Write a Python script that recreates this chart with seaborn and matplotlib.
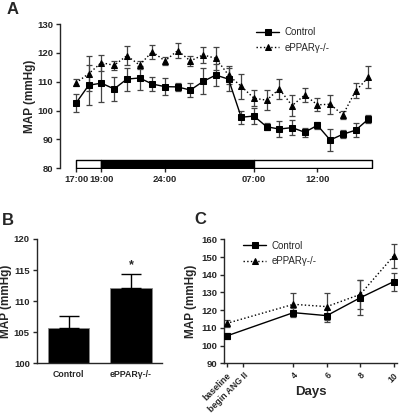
import numpy as np
import pandas as pd
import matplotlib
matplotlib.use("Agg")
import matplotlib.pyplot as plt
import seaborn as sns

# ---------------- Data ----------------
# Panel A: hourly MAP (hour 17 = 17:00 day 1, 40 = 16:00 day 2)
hours = list(range(17, 41))
ctrl_a = [102.6, 108.8, 109.5, 107.5, 110.9, 111.3, 109.2, 108.3, 108.2, 107.1,
          110.1, 112.3, 110.9, 97.7, 98.1, 94.4, 93.6, 94.1, 92.5, 94.9,
          89.8, 91.8, 93.2, 97.0]
ctrl_a_err = [3.2, 7.0, 6.6, 4.2, 4.0, 4.0, 2.3, 2.9, 1.3, 2.3,
              4.5, 3.7, 4.0, 2.3, 2.8, 1.3, 2.7, 2.5, 1.5, 1.3,
              3.7, 1.3, 2.5, 1.3]
ko_a = [109.6, 112.8, 116.6, 115.7, 119.0, 115.8, 120.4, 117.2, 120.8, 117.2,
        119.3, 118.1, 112.3, 108.4, 104.3, 103.6, 107.5, 101.7, 105.4, 102.0,
        102.2, 98.5, 106.8, 111.5]
ko_a_err = [1.2, 6.0, 2.8, 1.6, 3.3, 1.5, 2.4, 1.5, 2.6, 1.6,
            2.9, 4.0, 3.0, 4.3, 2.7, 3.5, 3.5, 3.7, 2.4, 2.3,
            3.3, 1.4, 2.6, 3.8]
a_ticks = [17, 19, 24, 31, 36]
a_ticklabels = ["17:00", "19:00", "24:00", "07:00", "12:00"]
period_start = [17, 19, 31]
period_end = [19, 31, 40.3]
period_color = ["white", "black", "white"]
period_low, period_high = 80, 83

# Panel B
b_groups = ["Control", "ePPARγ-/-"]
b_means = [105.6, 112.1]
b_err = [2.05, 2.3]

# Panel C
c_x = [0, 4, 6, 8, 10]
c_ticks = [0, 1, 4, 6, 8, 10]
c_ticklabels = ["baseline", "begin ANG II", "4", "6", "8", "10"]
ctrl_c = [105.4, 118.6, 116.9, 127.0, 136.1]
ctrl_c_err = [1.9, 2.5, 3.6, 10.0, 5.1]
ko_c = [112.5, 123.3, 122.0, 128.9, 150.6]
ko_c_err = [2.0, 6.2, 7.8, 8.0, 7.0]

# ---------------- Style ----------------
sns.set_style("ticks")
plt.rcParams['font.family'] = ['Liberation Sans', 'DejaVu Sans']
plt.rcParams['axes.linewidth'] = 1.0

fig = plt.figure(figsize=(4.04, 4.15), dpi=100)
W, H = 404, 415
def ax_rect(l, t, r, b):
    return [l / W, 1 - b / H, (r - l) / W, (b - t) / H]

tick_kw = dict(labelsize=6.8, width=1, length=3, pad=2)
err_kw = dict(fmt='none', ecolor='#444444', elinewidth=0.9, capsize=2, capthick=0.9)

# ---------------- Panel A ----------------
axA = fig.add_axes(ax_rect(60, 24, 374, 168.3))
for s, e, c in zip(period_start, period_end, period_color):
    axA.broken_barh([(s, e - s)], (period_low, period_high - period_low),
                    facecolors=c, edgecolors='black', linewidth=1, zorder=1)
axA.errorbar(hours, ctrl_a, yerr=ctrl_a_err, zorder=2, **err_kw)
axA.errorbar(hours, ko_a, yerr=ko_a_err, zorder=2, **err_kw)
sns.lineplot(x=hours, y=ctrl_a, ax=axA, color='black', lw=1, marker='s',
             markersize=4.6, markeredgecolor='black', label='Control', zorder=3)
sns.lineplot(x=hours, y=ko_a, ax=axA, color='black', lw=1, linestyle=':',
             marker='^', markersize=4.6, markeredgecolor='black',
             label='ePPARγ-/-', zorder=3)
axA.set_xlim(15.74, 40.45)
axA.set_ylim(80, 130)
axA.set_yticks([80, 90, 100, 110, 120, 130])
axA.set_xticks(a_ticks)
axA.set_xticklabels(a_ticklabels)
axA.tick_params(**tick_kw)
for lab in axA.get_xticklabels() + axA.get_yticklabels():
    lab.set_fontweight('bold')
axA.spines['top'].set_visible(False)
axA.spines['right'].set_visible(False)
axA.spines['bottom'].set_visible(False)
axA.set_ylabel("MAP (mmHg)", fontsize=8.5, fontweight='bold', labelpad=0.5)
axA.legend(loc='upper right', bbox_to_anchor=(0.885, 1.04), frameon=False,
           fontsize=7, handlelength=2.4, labelspacing=0.6, handletextpad=0.5)
fig.text(7 / W, 1 - 10 / H, "A", fontsize=12, fontweight='bold', va='center')

# ---------------- Panel B ----------------
axB = fig.add_axes(ax_rect(36.7, 239, 161.7, 363.3))
sns.barplot(x=b_groups, y=b_means, ax=axB, color='black', width=0.66,
            saturation=1, edgecolor='#888888', linewidth=0.6, errorbar=None)
axB.errorbar([0, 1], b_means, yerr=[[0, 0], b_err], fmt='none', ecolor='black',
             elinewidth=1, capsize=7.5, capthick=1)
axB.text(1, b_means[1] + b_err[1] + 0.5, "*", ha='center', va='bottom',
         fontsize=9, fontweight='bold')
axB.set_xlim(-0.51, 1.49)
axB.set_ylim(100, 120)
axB.set_yticks([100, 105, 110, 115, 120])
axB.tick_params(**tick_kw)
axB.tick_params(axis='x', length=0, labelsize=6.3, pad=5)
for lab in axB.get_xticklabels() + axB.get_yticklabels():
    lab.set_fontweight('bold')
sns.despine(ax=axB)
axB.set_ylabel("MAP (mmHg)", fontsize=8.5, fontweight='bold', labelpad=1)
fig.text(2 / W, 1 - 220 / H, "B", fontsize=12, fontweight='bold', va='center')

# ---------------- Panel C ----------------
axC = fig.add_axes(ax_rect(224, 239.3, 397, 363.3))
axC.errorbar(c_x, ctrl_c, yerr=ctrl_c_err, zorder=2, **err_kw)
axC.errorbar(c_x, ko_c, yerr=ko_c_err, zorder=2, **err_kw)
sns.lineplot(x=c_x, y=ctrl_c, ax=axC, color='black', lw=1, marker='s',
             markersize=4.2, markeredgecolor='black', label='Control', zorder=3)
sns.lineplot(x=c_x, y=ko_c, ax=axC, color='black', lw=1, linestyle=':',
             marker='^', markersize=4.2, markeredgecolor='black',
             label='ePPARγ-/-', zorder=3)
axC.set_xlim(-0.15, 10.2)
axC.set_ylim(90, 160)
axC.set_yticks([90, 100, 110, 120, 130, 140, 150, 160])
axC.set_xticks(c_ticks)
axC.set_xticklabels(c_ticklabels, rotation=45, ha='right', rotation_mode='anchor')
axC.tick_params(**tick_kw)
axC.tick_params(axis='x', labelsize=6.3, pad=2.5)
for lab in axC.get_xticklabels() + axC.get_yticklabels():
    lab.set_fontweight('bold')
sns.despine(ax=axC)
axC.set_xlabel("Days", fontsize=9.5, fontweight='bold')
axC.xaxis.set_label_coords(0.5, -0.235)
axC.xaxis.label.set_va('center')
axC.set_ylabel("MAP (mmHg)", fontsize=8.5, fontweight='bold', labelpad=3)
axC.legend(loc='upper left', bbox_to_anchor=(0.06, 1.06), frameon=False,
           fontsize=7, handlelength=2.4, labelspacing=0.6, handletextpad=0.5)
fig.text(194 / W, 1 - 219 / H, "C", fontsize=12, fontweight='bold', va='center')

fig.savefig("out.png", dpi=100)
